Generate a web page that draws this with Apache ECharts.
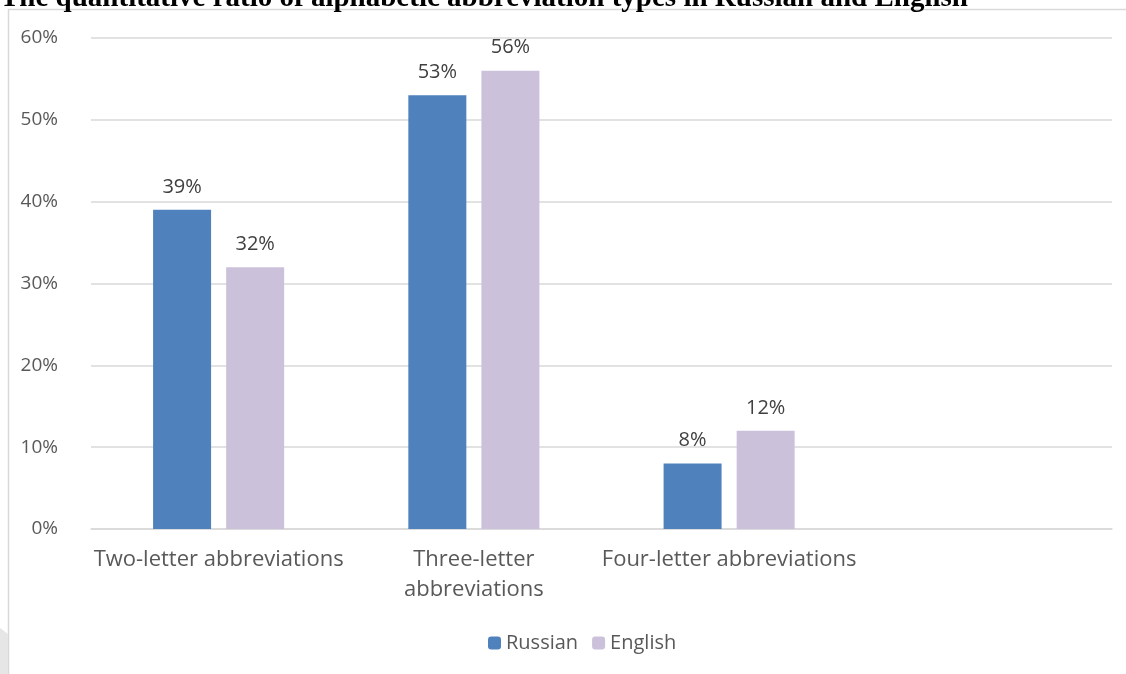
<!DOCTYPE html>
<html>
<head>
<meta charset="utf-8">
<script src="https://cdn.jsdelivr.net/npm/echarts@6/dist/echarts.min.js"></script>
<style>html,body{margin:0;padding:0;background:#fff;}#c{width:1126px;height:674px;}</style>
</head>
<body>
<div id="c"></div>
<script>
const titleText = 'The quantitative ratio of alphabetic abbreviation types in Russian and English';
const categories = ['Two-letter abbreviations', 'Three-letter\nabbreviations', 'Four-letter abbreviations', ''];
const seriesNames = ['Russian', 'English'];
const russian = [39, 53, 8, null];
const english = [32, 56, 12, null];
const yTicks = { min: 0, max: 60, interval: 10 };

const chart = echarts.init(document.getElementById('c'));
const labelStyle = {
  show: true, position: 'top', distance: 13,
  formatter: p => p.value + '%',
  color: '#404040', fontSize: 20, fontFamily: 'Open Sans'
};
chart.setOption({
  animation: false,
  graphic: [
    { type: 'rect', shape: { x: 8.5, y: 9.5, width: 1200, height: 700 },
      style: { fill: 'none', stroke: '#d9d9d9', lineWidth: 1.5 }, z: 0 },
    { type: 'polygon', shape: { points: [[0, 628], [8, 634], [8, 674], [0, 674]] },
      style: { fill: '#e6e6e6' }, z: 0 },
    { type: 'text', z: 10,
      style: { x: 0, y: 13, text: titleText, fontSize: 29, fontWeight: 'bold',
               fontFamily: 'Liberation Serif', fill: '#000', verticalAlign: 'bottom', align: 'left' } }
  ],
  legend: {
    data: seriesNames, bottom: 16, left: 483,
    itemWidth: 13, itemHeight: 13, itemGap: 14,
    textStyle: { color: '#595959', fontSize: 20, fontFamily: 'Open Sans' }
  },
  grid: { left: 91, right: 14, top: 38, bottom: 145 },
  xAxis: {
    type: 'category', data: categories,
    axisLine: { lineStyle: { color: '#d9d9d9', width: 1.5 } },
    axisTick: { show: false },
    axisLabel: { color: '#595959', fontSize: 22, fontFamily: 'Open Sans', margin: 16, lineHeight: 30, interval: 0 }
  },
  yAxis: {
    type: 'value', min: yTicks.min, max: yTicks.max, interval: yTicks.interval,
    axisLine: { show: false }, axisTick: { show: false },
    splitLine: { lineStyle: { color: '#d9d9d9', width: 1.5 } },
    axisLabel: { formatter: '{value}%', color: '#595959', fontSize: 19, fontFamily: 'Open Sans', margin: 33 }
  },
  series: [
    { name: seriesNames[0], type: 'bar', data: russian, barWidth: 58, barGap: '26%',
      itemStyle: { color: '#4F81BD' }, label: labelStyle },
    { name: seriesNames[1], type: 'bar', data: english, barWidth: 58,
      itemStyle: { color: '#CCC1DA' }, label: labelStyle }
  ]
});
</script>
</body>
</html>
